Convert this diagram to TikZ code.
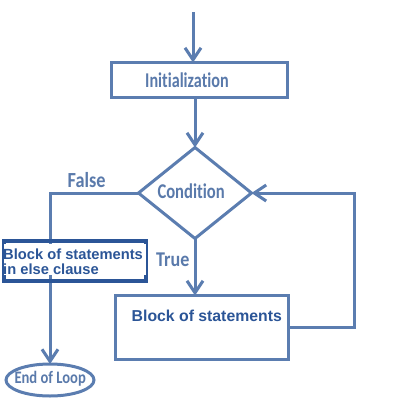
\documentclass[tikz,border=0pt]{standalone}
\usepackage{fontspec}
\setmainfont[Ligatures=NoCommon]{Carlito}
\newfontfamily\arialfont{Liberation Sans}
\usetikzlibrary{arrows.meta,shapes.geometric}
\definecolor{lb}{HTML}{5B7DB0}
\definecolor{lbt}{HTML}{5A7AAB}
\definecolor{db}{HTML}{2B5597}
\newcommand{\cfont}[3]{\scalebox{#2}[1]{\fontsize{#1}{#1}\selectfont\bfseries #3}}
\begin{document}
\begin{tikzpicture}[x=1pt,y=-1pt,
  flow/.style={draw=lb, line width=3pt},
  arr/.style={flow, -{Straight Barb[length=12pt,width=16pt]}},
  shapebox/.style={draw=lb, line width=3pt, fill=white, inner sep=0pt, outer sep=0pt},
  ctext/.style={text=lbt, inner sep=0pt, anchor=base west},
  atext/.style={text=db, font=\arialfont\bfseries\fontsize{15.8}{18}\selectfont, inner sep=0pt, anchor=base west}
]
\useasboundingbox (0,0) rectangle (402,405);
\coordinate (start) at (193,12);
\node[shapebox, minimum width=176pt, minimum height=35pt] (init) at (199.5,80) {};
\node[ctext] (inittext) at (145,87.7) {\cfont{21}{0.77}{Initialization}};
\node[shapebox, diamond, minimum width=113pt, minimum height=91pt] (cond) at (195,193) {};
\node[ctext] (condtext) at (157.3,198.7) {\cfont{21}{0.79}{Condition}};
\node[shapebox, minimum width=173pt, minimum height=64pt] (block) at (202,327.5) {};
\node[atext] (blocktext) at (131.5,321.7) {Block of statements};
\node[shapebox, ellipse, minimum width=88pt, minimum height=32pt] (end) at (50,380) {};
\node[ctext] (endtext) at (14.3,383.3) {\cfont{17.5}{0.835}{End of Loop}};
\coordinate (loopc) at (354,193);
\draw[arr] (start) -- (start |- init.north);
\draw[arr] (init.south -| cond.north) -- (cond.north);
\draw[arr] (cond.south) -- (cond.south |- block.north);
\draw[arr] (block.east) -| (loopc) -- (cond.east);
\draw[arr] (cond.west) -| (end.north);
\node[draw=db, line width=4pt, minimum width=142pt, minimum height=40pt, inner sep=0pt, outer sep=0pt] (else) at (75,261) {};
\fill[white] (4,244) rectangle (146,274.5);
\node[atext, font=\arialfont\bfseries\fontsize{14.7}{17}\selectfont] (elsetext1) at (3,259.3) {Block of statements};
\node[atext, font=\arialfont\bfseries\fontsize{14.7}{17}\selectfont] (elsetext2) at (3,274.3) {in else clause};
\node[ctext] (falsetext) at (67.5,187) {\cfont{21.5}{0.85}{False}};
\node[ctext] (truetext) at (156,266) {\cfont{21}{0.86}{True}};
\end{tikzpicture}
\end{document}
